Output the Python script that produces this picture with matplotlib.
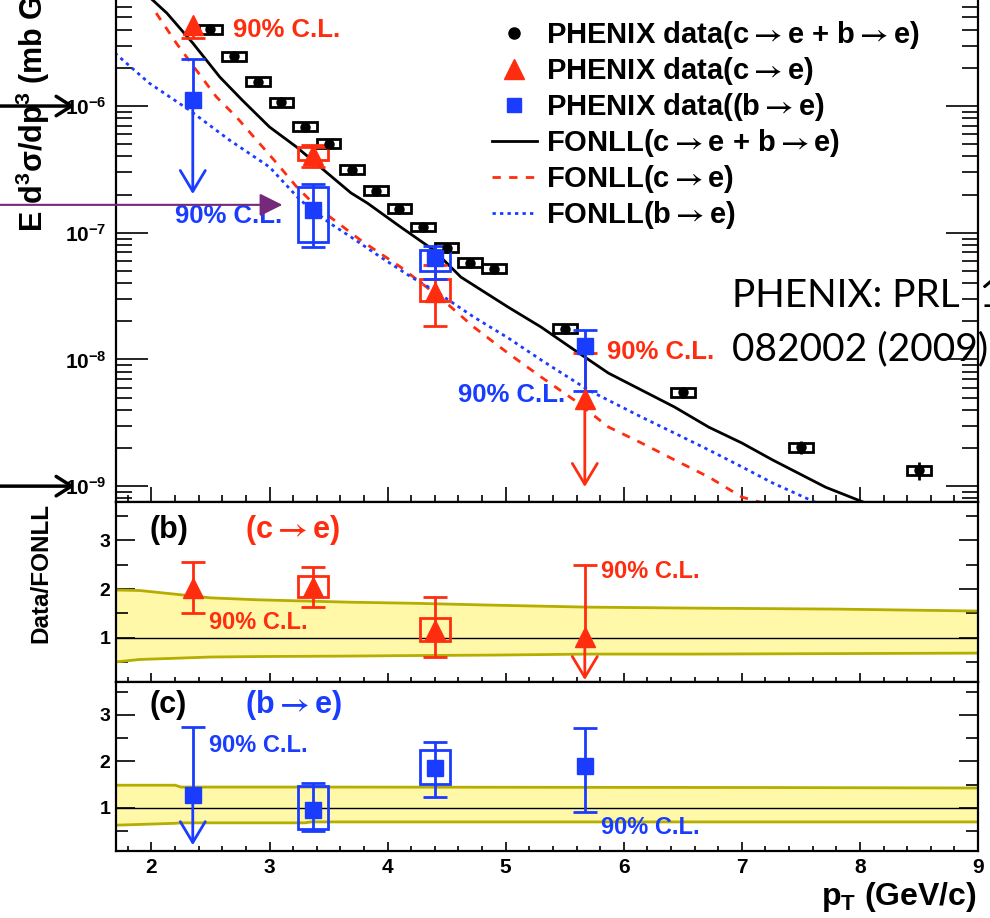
import numpy as np
import matplotlib.pyplot as plt
from matplotlib.patches import Rectangle
from matplotlib.lines import Line2D
from matplotlib.ticker import LogLocator, MultipleLocator, NullFormatter, FuncFormatter

plt.rcParams['font.family'] = ['Liberation Sans', 'DejaVu Sans']
plt.rcParams['font.weight'] = 'bold'
plt.rcParams['mathtext.fontset'] = 'custom'
plt.rcParams['mathtext.rm'] = 'Liberation Sans:bold'
plt.rcParams['mathtext.it'] = 'Liberation Sans:bold'
plt.rcParams['mathtext.bf'] = 'Liberation Sans:bold'
plt.rcParams['mathtext.sf'] = 'STIXGeneral'
plt.rcParams['axes.linewidth'] = 1.6

RED = '#ff2d0f'
BLUE = '#1a3cff'
OLIVE = '#b5ad00'
FILL = '#fff8a8'
nan = np.nan
ARR = r'$\mathsf{\rightarrow}$'

# PHENIX data, c->e + b->e
pt_all = [2.5, 2.7, 2.9, 3.1, 3.3, 3.5, 3.7, 3.9, 4.1, 4.3, 4.5, 4.7, 4.9, 5.5, 6.5, 7.5, 8.5]
y_all = [4.04e-6, 2.48e-6, 1.55e-6, 1.07e-6, 6.84e-7, 5.02e-7, 3.13e-7, 2.14e-7, 1.55e-7,
         1.11e-7, 7.6e-8, 5.8e-8, 5.2e-8, 1.75e-8, 5.5e-9, 2.03e-9, 1.34e-9]
stat_all = [0.04] * 13 + [0.06, 0.10, 0.12, 0.16]

# separated points (c->e, b->e)
pt_hf = [2.35, 3.37, 4.40, 5.67]

y_c = [4.35e-6, 4.11e-7, 3.43e-8, 4.84e-9]
y_c_lo = [3.43e-6, 3.3e-7, 1.82e-8, nan]
y_c_hi = [nan, 4.9e-7, 5.6e-8, 1.13e-8]
y_c_tip = [nan, nan, nan, 9.85e-10]
y_c_sys_lo = [nan, 3.75e-7, 2.89e-8, nan]
y_c_sys_hi = [nan, 4.74e-7, 4.31e-8, nan]

y_b = [1.11e-6, 1.52e-7, 6.35e-8, 1.27e-8]
y_b_lo = [nan, 7.76e-8, 4.3e-8, 5.6e-9]
y_b_hi = [2.34e-6, 2.43e-7, 7.9e-8, 1.72e-8]
y_b_tip = [2.02e-7, nan, nan, nan]
y_b_sys_lo = [nan, 8.5e-8, 5.0e-8, nan]
y_b_sys_hi = [nan, 2.3e-7, 7.3e-8, nan]

# FONLL curves
fonll_tot_x = [2.00, 2.13, 2.35, 2.58, 2.77, 3.00, 3.23, 3.46, 3.69, 3.83, 4.11, 4.39, 4.62, 5.02,
               5.30, 5.58, 5.87, 6.15, 6.43, 6.72, 7.00, 7.26, 7.71, 8.09]
fonll_tot_y = [7.0e-6, 5.42e-6, 3.14e-6, 1.69e-6, 1.11e-6, 6.83e-7, 4.74e-7, 3.12e-7, 2.06e-7,
               1.71e-7, 1.11e-7, 7.3e-8, 4.47e-8, 2.59e-8, 1.80e-8, 1.19e-8, 7.8e-9, 5.73e-9,
               4.21e-9, 2.92e-9, 2.19e-9, 1.61e-9, 9.8e-10, 7.1e-10]
fonll_c_x = [2.04, 2.21, 2.38, 2.55, 2.72, 2.89, 3.06, 3.23, 3.40, 3.77, 4.11, 4.45, 4.73, 5.02,
             5.30, 5.58, 5.87, 6.15, 6.43, 6.72, 7.00, 7.17]
fonll_c_y = [5.42e-6, 3.14e-6, 1.92e-6, 1.18e-6, 8.19e-7, 5.39e-7, 3.55e-7, 2.30e-7, 1.60e-7,
             8.75e-8, 5.36e-8, 3.05e-8, 1.80e-8, 1.12e-8, 7.27e-9, 4.78e-9, 2.93e-9, 2.19e-9,
             1.61e-9, 1.18e-9, 8.2e-10, 7.4e-10]
fonll_b_x = [1.69, 1.98, 2.32, 2.66, 3.00, 3.26, 3.51, 3.69, 3.94, 4.20, 4.39, 4.73, 5.02, 5.30,
             5.70, 6.15, 6.43, 6.72, 7.00, 7.26, 7.63]
fonll_b_y = [2.62e-6, 1.52e-6, 9.3e-7, 5.39e-7, 3.30e-7, 1.81e-7, 1.19e-7, 9.25e-8, 6.43e-8,
             4.47e-8, 3.53e-8, 2.16e-8, 1.48e-8, 9.9e-9, 5.73e-9, 3.51e-9, 2.62e-9, 1.93e-9,
             1.42e-9, 1.06e-9, 7.4e-10]

# Data/FONLL ratios
r_c = [2.02, 2.04, 1.16, 1.02]
r_c_lo = [1.51, 1.63, 0.61, nan]
r_c_hi = [2.55, 2.45, 1.84, 2.49]
r_c_tip = [nan, nan, nan, 0.14]
r_c_sys_lo = [nan, 1.84, 0.94, nan]
r_c_sys_hi = [nan, 2.27, 1.41, nan]

r_b = [1.28, 0.96, 1.86, 1.90]
r_b_lo = [nan, 0.51, 1.24, 0.91]
r_b_hi = [2.74, 1.54, 2.42, 2.72]
r_b_tip = [0.2, nan, nan, nan]
r_b_sys_lo = [nan, 0.55, 1.52, nan]
r_b_sys_hi = [nan, 1.47, 2.25, nan]

# FONLL uncertainty bands
band_b_x = [1.7, 1.9, 2.5, 2.9, 3.7, 4.2, 4.9, 5.7, 6.6, 7.8, 9.0]
band_b_hi = [1.98, 1.97, 1.82, 1.78, 1.73, 1.71, 1.67, 1.63, 1.61, 1.59, 1.55]
band_b_lo = [0.51, 0.56, 0.61, 0.62, 0.63, 0.64, 0.65, 0.67, 0.67, 0.68, 0.69]
band_c_x = [1.7, 2.2, 2.25, 3.3, 3.35, 7.2, 9.0]
band_c_hi = [1.49, 1.49, 1.45, 1.45, 1.45, 1.44, 1.43]
band_c_lo = [0.63, 0.67, 0.68, 0.68, 0.70, 0.70, 0.70]


def draw_points(ax, x, y, lo, hi, tip, s_lo, s_hi, color, marker, ms):
    for xi, yi, l, h, t, sl, sh in zip(x, y, lo, hi, tip, s_lo, s_hi):
        if not np.isnan(sl):
            ax.add_patch(Rectangle((xi - 0.125, sl), 0.25, sh - sl, fill=False,
                                   ec=color, lw=2, zorder=3))
        low = 0 if np.isnan(l) else yi - l
        up = 0 if np.isnan(h) else h - yi
        eb = ax.errorbar([xi], [yi], yerr=[[low], [up]], fmt=marker, color=color, ms=ms,
                         capsize=8.5, elinewidth=2, capthick=2, zorder=4)
        if np.isnan(l):
            eb[1][0].remove()
        if np.isnan(h):
            eb[1][1].remove()
        if not np.isnan(t):
            ax.annotate('', xy=(xi, t), xytext=(xi, yi),
                        arrowprops=dict(arrowstyle='->,head_length=0.75,head_width=0.45',
                                        color=color, lw=2, shrinkA=0, shrinkB=0,
                                        mutation_scale=20))


def band(ax, x, lo, hi):
    ax.fill_between(x, lo, hi, color=FILL, lw=0, zorder=1)
    ax.plot(x, hi, color=OLIVE, lw=2, zorder=2)
    ax.plot(x, lo, color=OLIVE, lw=2, zorder=2)
    ax.axhline(1, color='k', lw=1, zorder=2)


fig = plt.figure(figsize=(9.9, 9.18), dpi=100)
ax = fig.add_axes([0.1172, 0.4532, 0.8707, 0.5468])
axb = fig.add_axes([0.1172, 0.2571, 0.8707, 0.1961])
axc = fig.add_axes([0.1172, 0.0730, 0.8707, 0.1841])

# ---- main panel
ax.set_yscale('log')
ax.set_xlim(1.7, 9.0)
ax.set_ylim(7.5e-10, 6.87e-6)
ax.plot(fonll_tot_x, fonll_tot_y, color='k', lw=2, zorder=2)
ax.plot(fonll_c_x, fonll_c_y, color=RED, lw=2, ls=(0, (3, 3)), zorder=2)
ax.plot(fonll_b_x, fonll_b_y, color=BLUE, lw=2, ls=(0, (1.2, 1.5)), zorder=2)

for xi, yi in zip(pt_all, y_all):
    ax.add_patch(Rectangle((xi - 0.1, yi / 1.085), 0.2, yi * 1.085 - yi / 1.085,
                           fill=False, ec='k', lw=2, zorder=3))
ax.errorbar(pt_all, y_all, yerr=np.array(stat_all) * np.array(y_all), fmt='o', color='k',
            ms=6.5, elinewidth=2, capsize=0, zorder=4)

draw_points(ax, pt_hf, y_c, y_c_lo, y_c_hi, y_c_tip, y_c_sys_lo, y_c_sys_hi, RED, '^', 14)
draw_points(ax, pt_hf, y_b, y_b_lo, y_b_hi, y_b_tip, y_b_sys_lo, y_b_sys_hi, BLUE, 's', 11)

ax.text(2.69, 3.98e-6, '90% C.L.', color=RED, fontsize=18.5, va='center')
ax.text(2.20, 1.35e-7, '90% C.L.', color=BLUE, fontsize=18.5, va='center')
ax.text(5.86, 1.14e-8, '90% C.L.', color=RED, fontsize=18.5, va='center')
ax.text(4.60, 5.24e-9, '90% C.L.', color=BLUE, fontsize=18.5, va='center')

handles = [Line2D([], [], marker='o', color='k', ls='none', ms=8),
           Line2D([], [], marker='^', color=RED, ls='none', ms=14),
           Line2D([], [], marker='s', color=BLUE, ls='none', ms=10),
           Line2D([], [], color='k', lw=2),
           Line2D([], [], color=RED, lw=2, ls=(0, (3, 3))),
           Line2D([], [], color=BLUE, lw=2, ls=(0, (1.2, 1.5)))]
labels = ['PHENIX data(c%se + b%se)' % (ARR, ARR), 'PHENIX data(c%se)' % ARR,
          'PHENIX data((b%se)' % ARR, 'FONLL(c%se + b%se)' % (ARR, ARR),
          'FONLL(c%se)' % ARR, 'FONLL(b%se)' % ARR]
ax.legend(handles, labels, loc='upper left', bbox_to_anchor=(0.436, 0.962), frameon=False,
          fontsize=21, borderpad=0, borderaxespad=0, handlelength=1.55, handletextpad=0.32,
          labelspacing=0.14)

ax.yaxis.set_major_locator(LogLocator(base=10, numticks=20))
ax.yaxis.set_minor_locator(LogLocator(base=10, subs=np.arange(2, 10), numticks=20))
ax.yaxis.set_minor_formatter(NullFormatter())
ax.yaxis.set_major_formatter(FuncFormatter(lambda v, p: r'$10^{%d}$' % round(np.log10(v))))
ax.spines['top'].set_visible(False)

for a in (ax, axb, axc):
    a.set_xlim(1.7, 9.0)
    a.xaxis.set_major_locator(MultipleLocator(1))
    a.xaxis.set_minor_locator(MultipleLocator(0.2))
    a.tick_params(which='both', direction='in', right=True, top=False, width=1.2)
for a in (ax, axb):
    a.tick_params(axis='x', labelbottom=False)
ax.tick_params(axis='y', which='major', length=23, labelsize=15, pad=7)
ax.tick_params(axis='y', which='minor', length=11.5)
ax.tick_params(axis='x', which='major', length=11)
ax.tick_params(axis='x', which='minor', length=5)

# ---- ratio panels
band(axb, band_b_x, band_b_lo, band_b_hi)
draw_points(axb, pt_hf, r_c, r_c_lo, r_c_hi, r_c_tip, r_c_sys_lo, r_c_sys_hi, RED, '^', 14)
axb.set_ylim(0.1, 3.78)
axb.text(1.98, 3.2, '(b)', fontsize=22, va='center')
axb.text(2.79, 3.2, '(c%se)' % ARR, color=RED, fontsize=22, va='center')
axb.text(2.49, 1.31, '90% C.L.', color=RED, fontsize=17, va='center')
axb.text(5.81, 2.35, '90% C.L.', color=RED, fontsize=17, va='center')

band(axc, band_c_x, band_c_lo, band_c_hi)
draw_points(axc, pt_hf, r_b, r_b_lo, r_b_hi, r_b_tip, r_b_sys_lo, r_b_sys_hi, BLUE, 's', 11)
axc.set_ylim(0.075, 3.71)
axc.text(1.98, 3.21, '(c)', fontsize=22, va='center')
axc.text(2.79, 3.21, '(b%se)' % ARR, color=BLUE, fontsize=22, va='center')
axc.text(2.49, 2.35, '90% C.L.', color=BLUE, fontsize=17, va='center')
axc.text(5.81, 0.57, '90% C.L.', color=BLUE, fontsize=17, va='center')

for a in (axb, axc):
    a.yaxis.set_major_locator(MultipleLocator(1))
    a.yaxis.set_minor_locator(MultipleLocator(0.5))
    a.tick_params(axis='y', which='major', length=14, labelsize=14, pad=4)
    a.tick_params(axis='y', which='minor', length=8.5)
    a.tick_params(axis='x', which='major', length=6.5)
    a.tick_params(axis='x', which='minor', length=3.5)
axc.tick_params(axis='x', labelsize=15, pad=5)

# ---- axis titles
fig.text(0.033, 1 - 232 / 918, r'E d$^{3}$σ/dp$^{3}$ (mb GeV$^{-2}$c$^{3}$)',
         rotation=90, ha='center', va='bottom', fontsize=22)
fig.text(0.041, 1 - 573 / 918, 'Data/FONLL', rotation=90, ha='center', va='center', fontsize=17.5)
fig.text(0.987, 1 - 905 / 918, r'p$_{T}$ (GeV/c)', ha='right', va='baseline', fontsize=23)

# ---- slide annotations
fig.text(0.7394, 1 - 307 / 918, 'PHENIX: PRL  103,', family='Lato', fontweight='normal',
         fontsize=28, va='baseline')
fig.text(0.7394, 1 - 360 / 918, '082002 (2009)', family='Lato', fontweight='normal',
         fontsize=28, va='baseline')
for yv in (1e-6, 1e-9):
    ax.annotate('', xy=(-0.048, yv), xycoords=('axes fraction', 'data'),
                xytext=(-0.135, yv), textcoords=('axes fraction', 'data'),
                arrowprops=dict(arrowstyle='->,head_length=0.55,head_width=0.35', color='k',
                                lw=2.5, shrinkA=0, shrinkB=0, mutation_scale=20),
                annotation_clip=False)
ax.annotate('', xy=(0.193, 1.66e-7), xycoords=('axes fraction', 'data'),
            xytext=(-0.135, 1.66e-7), textcoords=('axes fraction', 'data'),
            arrowprops=dict(arrowstyle='-|>,head_length=0.7,head_width=0.35', color='#76287a',
                            lw=1.5, shrinkA=0, shrinkB=0, mutation_scale=20),
            annotation_clip=False)

fig.savefig('out.png', dpi=100)
